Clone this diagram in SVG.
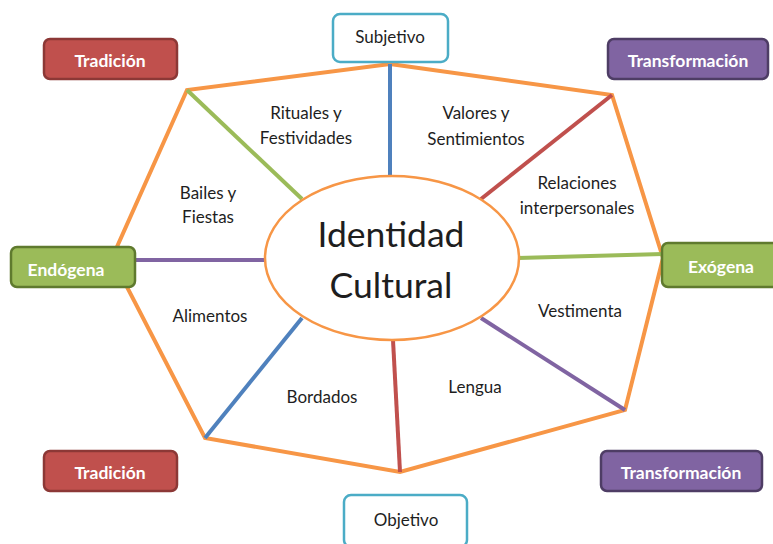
<svg xmlns="http://www.w3.org/2000/svg" width="773" height="544" viewBox="0 0 773 544">
<style>
.edge{fill:none;stroke:#f79646;stroke-width:4;stroke-linejoin:miter}
.sp{stroke-width:4;fill:none}
.lbl{font-family:Lato,"Open Sans","Liberation Sans",sans-serif;font-size:17px;fill:#1e1e1e;text-anchor:middle}
.btxt{font-family:Lato,"Open Sans","Liberation Sans",sans-serif;font-size:17.5px;font-weight:bold;fill:#ffffff;text-anchor:middle}
.otxt{font-family:Lato,"Open Sans","Liberation Sans",sans-serif;font-size:17px;fill:#1e1e1e;text-anchor:middle}
.red{fill:#c0504d;stroke:#8c3836;stroke-width:2.5}
.pur{fill:#8064a2;stroke:#4e3d65;stroke-width:2.5}
.grn{fill:#9bbb59;stroke:#5f7a2e;stroke-width:2.5}
.out{fill:#ffffff;stroke:#4bacc6;stroke-width:2.5}
</style>
<rect width="773" height="544" fill="#ffffff"/>
<g id="connectors">
<polygon class="edge" points="390,64 612,95 663,258 625,410 400,472 205,438 112,258 187,90"/>
<line class="sp" stroke="#4f81bd" x1="390" y1="64" x2="390" y2="178"/>
<line class="sp" stroke="#9bbb59" x1="187" y1="90" x2="302" y2="199"/>
<line class="sp" stroke="#c0504d" x1="612" y1="95" x2="481" y2="199"/>
<line class="sp" stroke="#8064a2" x1="130" y1="260" x2="267" y2="260"/>
<line class="sp" stroke="#9bbb59" x1="518" y1="258" x2="663" y2="254"/>
<line class="sp" stroke="#4f81bd" x1="205" y1="438" x2="302" y2="318"/>
<line class="sp" stroke="#c0504d" x1="400" y1="472" x2="393" y2="340"/>
<line class="sp" stroke="#8064a2" x1="625" y1="410" x2="481" y2="318"/>
</g>
<g id="center">
<ellipse cx="392" cy="258" rx="127" ry="82" fill="#ffffff" stroke="#f79646" stroke-width="2.5"/>
<text x="391" y="247" font-family="Lato,'Open Sans','Liberation Sans',sans-serif" font-size="35.5" fill="#1e1e1e" text-anchor="middle">Identidad</text>
<text x="391" y="298" font-family="Lato,'Open Sans','Liberation Sans',sans-serif" font-size="35.5" fill="#1e1e1e" text-anchor="middle">Cultural</text>
</g>
<g id="labels">
<text class="lbl" x="306" y="119">Rituales y</text>
<text class="lbl" x="306" y="144">Festividades</text>
<text class="lbl" x="476" y="119">Valores y</text>
<text class="lbl" x="476" y="145">Sentimientos</text>
<text class="lbl" x="577" y="189">Relaciones</text>
<text class="lbl" x="577" y="214">interpersonales</text>
<text class="lbl" x="208" y="199">Bailes y</text>
<text class="lbl" x="208" y="223">Fiestas</text>
<text class="lbl" x="210" y="322">Alimentos</text>
<text class="lbl" x="580" y="317">Vestimenta</text>
<text class="lbl" x="322" y="403">Bordados</text>
<text class="lbl" x="475" y="393">Lengua</text>
</g>
<g id="subjetivo">
<rect class="out" x="333" y="14" width="115" height="48" rx="7"/>
<text class="otxt" x="390" y="43">Subjetivo</text>
</g>
<g id="objetivo">
<rect class="out" x="344" y="495" width="123" height="52" rx="7"/>
<text class="otxt" x="406" y="526">Objetivo</text>
</g>
<g id="tradicion-top">
<rect class="red" x="44" y="39" width="133" height="40" rx="6"/>
<text class="btxt" x="110" y="67">Tradición</text>
</g>
<g id="transformacion-top">
<rect class="pur" x="608" y="39" width="160" height="40" rx="6"/>
<text class="btxt" x="688" y="67">Transformación</text>
</g>
<g id="endogena">
<rect class="grn" x="11" y="247" width="124" height="40" rx="6"/>
<text class="btxt" x="66" y="276">Endógena</text>
</g>
<g id="exogena">
<rect class="grn" x="662" y="243" width="130" height="44" rx="6"/>
<text class="btxt" x="721" y="273">Exógena</text>
</g>
<g id="tradicion-bottom">
<rect class="red" x="44" y="451" width="133" height="40" rx="6"/>
<text class="btxt" x="110" y="479">Tradición</text>
</g>
<g id="transformacion-bottom">
<rect class="pur" x="601" y="451" width="161" height="40" rx="6"/>
<text class="btxt" x="681" y="479">Transformación</text>
</g>
</svg>
